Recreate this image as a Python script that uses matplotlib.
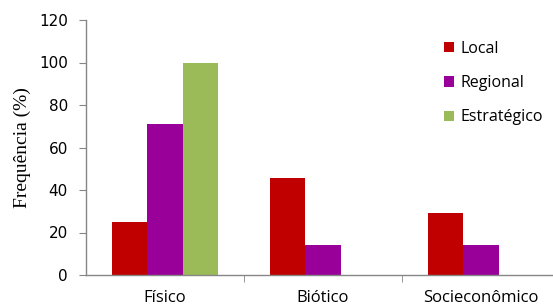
import numpy as np
import matplotlib.pyplot as plt
from matplotlib.ticker import FixedLocator

categories = ['Físico', 'Biótico', 'Socieconômico']
series_names = ['Local', 'Regional', 'Estratégico']
local = [25, 45.5, 29]
regional = [71, 14, 14]
estrategico = [100, 0, 0]
yticks = [0, 20, 40, 60, 80, 100, 120]

colors = ['#C00000', '#990099', '#9BBB59']
axis_gray = '#868686'

fig = plt.figure(figsize=(5.53, 3.06), dpi=100)
ax = fig.add_axes([86 / 553, 31 / 306, 474 / 553, 255 / 306])

x = np.arange(len(categories))
width = 0.222
for i, (vals, name) in enumerate(zip([local, regional, estrategico], series_names)):
    ax.bar(x + (i - 1) * width, vals, width, color=colors[i], label=name)

ax.set_xlim(-0.5, len(categories) - 0.5)
ax.set_ylim(0, 120)
ax.set_yticks(yticks)

# category labels in the middle, ticks on the boundaries
ax.set_xticks(x)
ax.set_xticklabels(categories, fontsize=12, family='Open Sans')
ax.tick_params(axis='x', length=0, pad=11)
ax.xaxis.set_minor_locator(FixedLocator(x[:-1] + 0.5))
ax.tick_params(axis='x', which='minor', length=5, color=axis_gray, direction='out')

ax.tick_params(axis='y', length=5, color=axis_gray, pad=8, labelsize=11)
for lab in ax.get_yticklabels():
    lab.set_family('DejaVu Sans')

for s in ['top', 'right']:
    ax.spines[s].set_visible(False)
for s in ['left', 'bottom']:
    ax.spines[s].set_color(axis_gray)
    ax.spines[s].set_linewidth(1)

ax.set_ylabel('Frequência (%)', family='Liberation Serif', fontsize=14, labelpad=6)

ax.legend(loc='upper left', bbox_to_anchor=(344 / 474, 0.975), frameon=False,
          handlelength=0.6, handleheight=0.6, handletextpad=0.4,
          labelspacing=1.15, prop={'family': 'Open Sans', 'size': 11.5})

fig.savefig('out.png', dpi=100)
